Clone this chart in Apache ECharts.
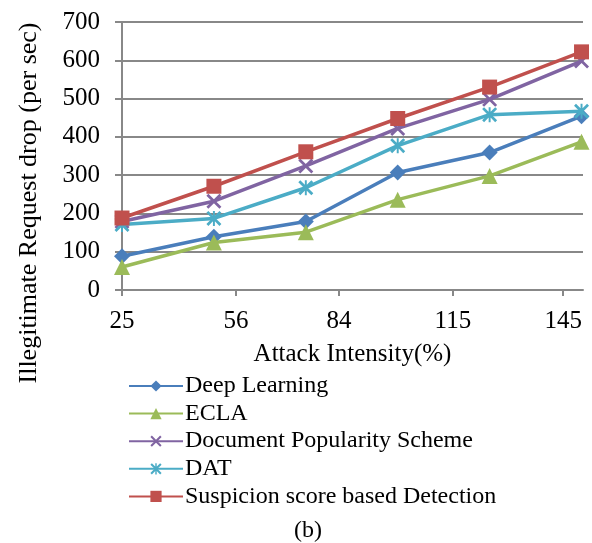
<!DOCTYPE html>
<html>
<head>
<meta charset="utf-8">
<script src="https://cdn.jsdelivr.net/npm/echarts@6/dist/echarts.min.js"></script>
<style>
html,body{margin:0;padding:0;background:#fff;}
#chart{width:592px;height:543px;}
</style>
</head>
<body>
<div id="chart"></div>
<script>
// ---- data ----
const xValues = [25, 50, 75, 100, 125, 150];
const xTickValues = [25, 56, 84, 115, 145];
const yTickLabels = [0, 100, 200, 300, 400, 500, 600, 700];
const seriesNames = ['Deep Learning', 'ECLA', 'Document Popularity Scheme', 'DAT', 'Suspicion score based Detection'];
const deepLearning = [88, 139, 179, 307, 359, 454];
const ecla = [60, 124, 151, 236, 298, 387];
const docPopularity = [179, 232, 324, 422, 498, 598];
const dat = [171, 187, 267, 377, 458, 467];
const suspicion = [188, 271, 361, 448, 530, 622];

const colors = ['#4A7EBB', '#9BBB59', '#8064A2', '#4BACC6', '#C0504D'];
const xPath = 'path://M0,1.3 L1.3,0 L5,3.7 L8.7,0 L10,1.3 L6.3,5 L10,8.7 L8.7,10 L5,6.3 L1.3,10 L0,8.7 L3.7,5 Z';
const starPath = 'path://M0,1.3 L1.3,0 L5,3.7 L8.7,0 L10,1.3 L6.3,5 L10,8.7 L8.7,10 L5,6.3 L1.3,10 L0,8.7 L3.7,5 Z M4.35,0 L5.65,0 L5.65,10 L4.35,10 Z';
const symbols = ['diamond', 'triangle', xPath, starPath, 'rect'];
const symbolSizes = [16, 16, 15, 15, 15];
const allData = [deepLearning, ecla, docPopularity, dat, suspicion];

const font = 'Liberation Serif';
const chart = echarts.init(document.getElementById('chart'), null, {renderer: 'canvas'});

const series = seriesNames.map((name, i) => ({
  name: name,
  type: 'line',
  data: xValues.map((x, j) => [x, allData[i][j]]),
  symbol: symbols[i],
  symbolSize: symbolSizes[i],
  showAllSymbol: true,
  lineStyle: {color: colors[i], width: 3.5},
  itemStyle: {color: colors[i]},
  z: 2 + i,
  animation: false
}));

chart.setOption({
  animation: false,
  textStyle: {fontFamily: font, color: '#000'},
  title: {
    text: '(b)',
    left: 303,
    textAlign: 'center',
    top: 514,
    textStyle: {fontFamily: font, fontSize: 24, fontWeight: 'normal', color: '#000'}
  },
  grid: {left: 122, right: 9, top: 22, bottom: 253, containLabel: false},
  legend: {
    orient: 'vertical',
    left: 123,
    top: 369,
    itemWidth: 54,
    itemHeight: 14,
    itemGap: 3.6,
    textStyle: {fontFamily: font, fontSize: 24, color: '#000', padding: [0, 0, 0, -3]},
    data: seriesNames
  },
  xAxis: {
    type: 'value',
    min: 25,
    max: 150.4,
    name: 'Attack Intensity(%)',
    nameLocation: 'middle',
    nameGap: 52,
    nameTextStyle: {fontFamily: font, fontSize: 25, color: '#000'},
    axisLine: {show: true, lineStyle: {color: '#888', width: 2}},
    axisTick: {show: true, customValues: xTickValues, length: 6, lineStyle: {color: '#888', width: 2}},
    axisLabel: {customValues: xTickValues, fontFamily: font, fontSize: 25, color: '#000', margin: 19},
    splitLine: {show: false}
  },
  yAxis: {
    type: 'value',
    min: 0,
    max: 700,
    interval: 100,
    name: 'Illegitimate Request drop (per sec)',
    nameLocation: 'middle',
    nameGap: 80,
    nameTextStyle: {fontFamily: font, fontSize: 26, color: '#000', padding: [0, 94, 0, 0]},
    axisLine: {show: true, lineStyle: {color: '#888', width: 2}},
    axisTick: {show: true, length: 7, lineStyle: {color: '#888', width: 2}},
    axisLabel: {
      fontFamily: font, fontSize: 25, color: '#000', margin: 22,
      formatter: v => yTickLabels.indexOf(v) >= 0 ? String(v) : ''
    },
    splitLine: {show: true, lineStyle: {color: '#888', width: 2}}
  },
  series: series
});
</script>
</body>
</html>
